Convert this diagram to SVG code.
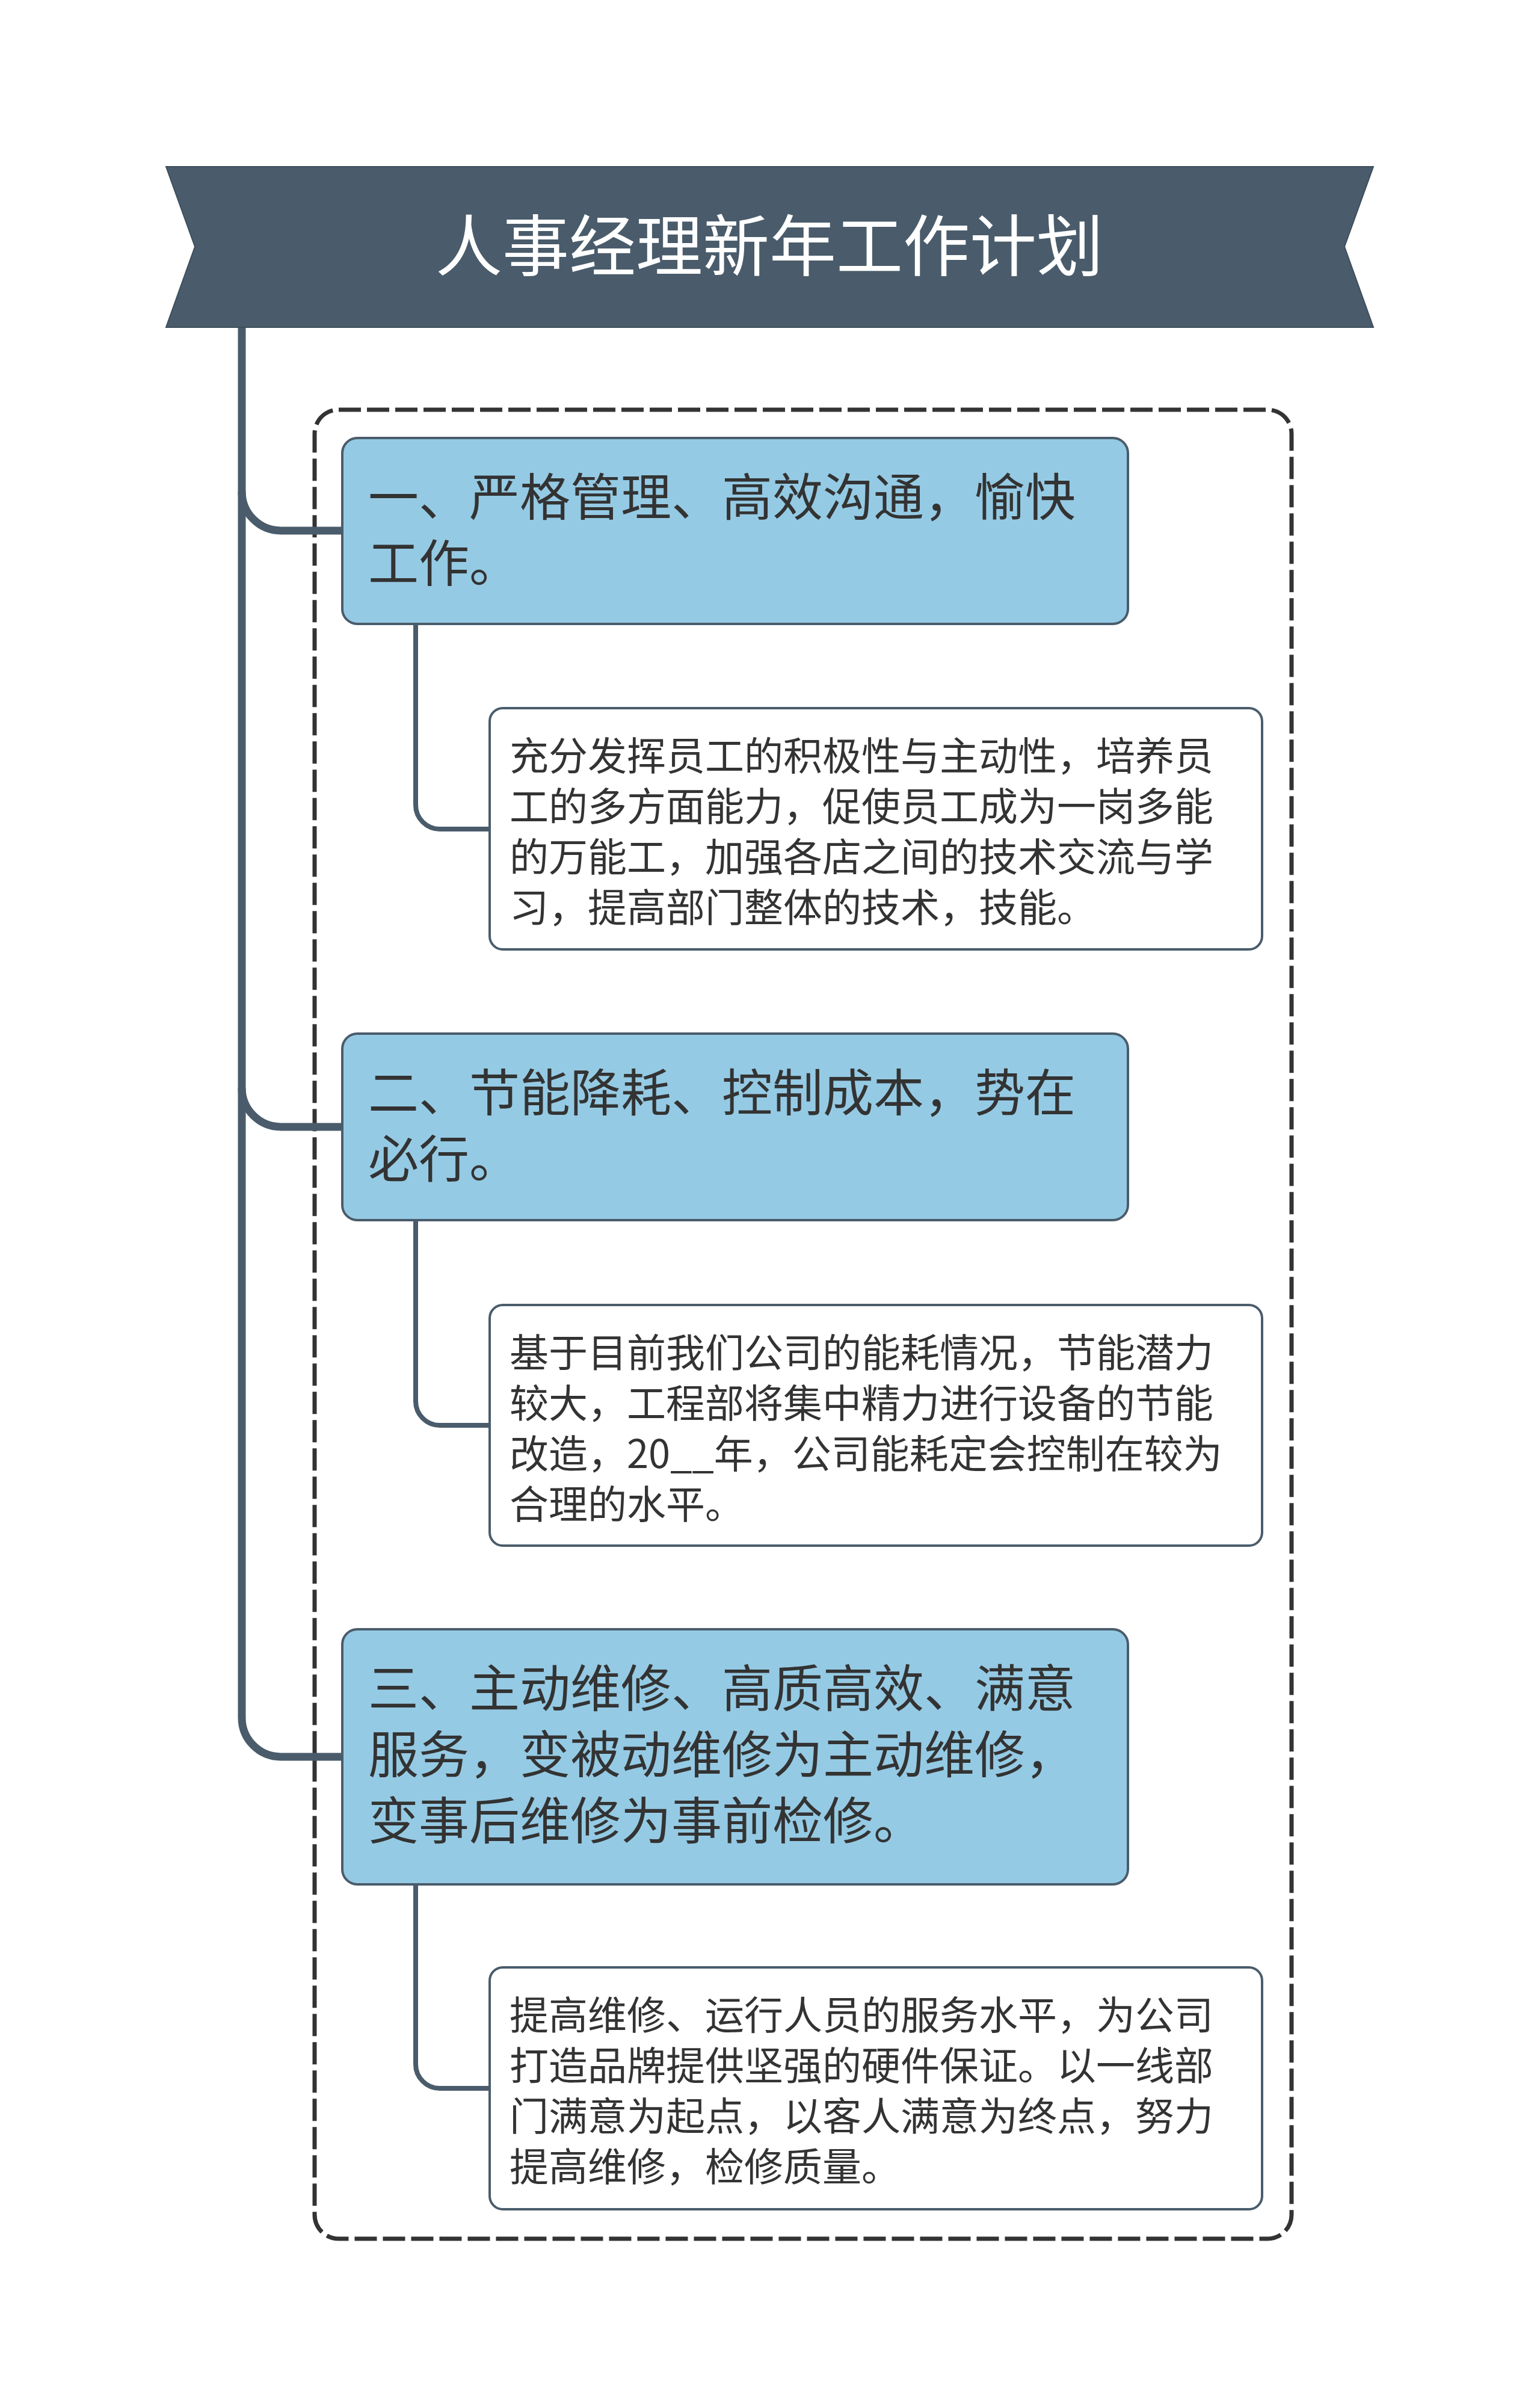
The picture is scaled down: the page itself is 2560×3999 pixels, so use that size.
<svg xmlns="http://www.w3.org/2000/svg" width="2560" height="3999" viewBox="0 0 2560 3999">
<style>
.main{fill:none;stroke:#4A5C6B;stroke-width:13}
.sub{fill:none;stroke:#4A5C6B;stroke-width:8}
.topic{fill:#95CAE4;stroke:#4A5C6B;stroke-width:4}
.leaf{fill:#FFFFFF;stroke:#4A5C6B;stroke-width:4}
.t1{font-family:"Noto Sans CJK SC","Noto Sans",sans-serif;font-size:84px;fill:#333333}
.t2{font-family:"Noto Sans CJK SC","Noto Sans",sans-serif;font-size:65px;fill:#333333}
.title{font-family:"Noto Sans CJK SC","Noto Sans",sans-serif;font-size:111px;fill:#FFFFFF}
</style>
<rect x="0" y="0" width="2560" height="3999" fill="#FFFFFF"/>
<g id="boundary">
<rect x="523" y="681" width="1624" height="3040" rx="40" ry="40" fill="none" stroke="#333333" stroke-width="7" stroke-dasharray="37 10"/>
</g>
<g id="connectors">
<path class="main" d="M402,543 V2855 A65,65 0 0 0 467,2920 H571"/>
<path class="main" d="M402,817 A65,65 0 0 0 467,882 H571"/>
<path class="main" d="M402,1808 A65,65 0 0 0 467,1873 H571"/>
<path class="sub" d="M691,1037 V1338 A40,40 0 0 0 731,1378 H816"/>
<path class="sub" d="M691,2028 V2329 A40,40 0 0 0 731,2369 H816"/>
<path class="sub" d="M691,3132 V3431 A40,40 0 0 0 731,3471 H816"/>
</g>
<g id="root">
<polygon points="276,277 2283,277 2235,410 2283,544 276,544 324,410" fill="#4A5C6B" stroke="#3E4E5C" stroke-width="2"/>
<text class="title" x="1279" y="450" text-anchor="middle">人事经理新年工作计划</text>
</g>
<g id="node1">
<rect class="topic" x="569" y="728" width="1306" height="309" rx="25" ry="25"/>
<text class="t1" x="612" y="857">一、严格管理、高效沟通，愉快</text>
<text class="t1" x="612" y="967">工作。</text>
</g>
<g id="node1-1">
<rect class="leaf" x="814" y="1177" width="1284" height="401" rx="22" ry="22"/>
<text class="t2" x="847" y="1280">充分发挥员工的积极性与主动性，培养员</text>
<text class="t2" x="847" y="1364">工的多方面能力，促使员工成为一岗多能</text>
<text class="t2" x="847" y="1448">的万能工，加强各店之间的技术交流与学</text>
<text class="t2" x="847" y="1532">习，提高部门整体的技术，技能。</text>
</g>
<g id="node2">
<rect class="topic" x="569" y="1718" width="1306" height="310" rx="25" ry="25"/>
<text class="t1" x="612" y="1847">二、节能降耗、控制成本，势在</text>
<text class="t1" x="612" y="1957">必行。</text>
</g>
<g id="node2-1">
<rect class="leaf" x="814" y="2169" width="1284" height="400" rx="22" ry="22"/>
<text class="t2" x="847" y="2272">基于目前我们公司的能耗情况，节能潜力</text>
<text class="t2" x="847" y="2356">较大，工程部将集中精力进行设备的节能</text>
<text class="t2" x="847" y="2440">改造，20__年，公司能耗定会控制在较为</text>
<text class="t2" x="847" y="2524">合理的水平。</text>
</g>
<g id="node3">
<rect class="topic" x="569" y="2708" width="1306" height="424" rx="25" ry="25"/>
<text class="t1" x="612" y="2837">三、主动维修、高质高效、满意</text>
<text class="t1" x="612" y="2947">服务，变被动维修为主动维修，</text>
<text class="t1" x="612" y="3057">变事后维修为事前检修。</text>
</g>
<g id="node3-1">
<rect class="leaf" x="814" y="3270" width="1284" height="402" rx="22" ry="22"/>
<text class="t2" x="847" y="3373">提高维修、运行人员的服务水平，为公司</text>
<text class="t2" x="847" y="3457">打造品牌提供坚强的硬件保证。以一线部</text>
<text class="t2" x="847" y="3541">门满意为起点，以客人满意为终点，努力</text>
<text class="t2" x="847" y="3625">提高维修，检修质量。</text>
</g>
</svg>
